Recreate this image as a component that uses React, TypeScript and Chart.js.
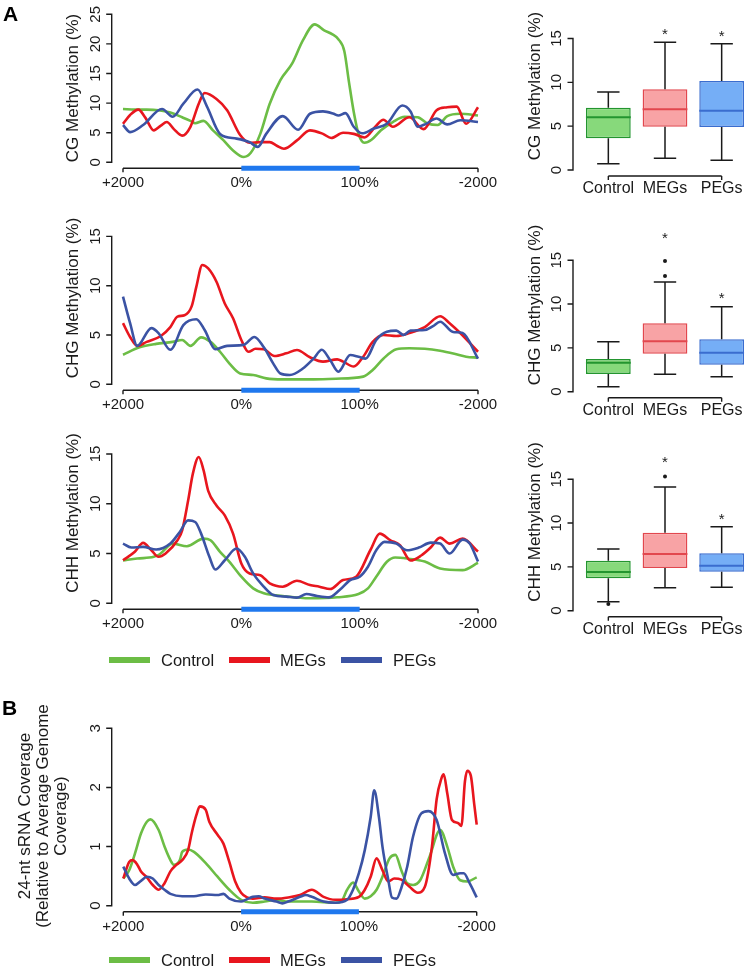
import React, { useEffect, useRef } from 'react';
import { Chart, registerables } from 'chart.js';
Chart.register(...registerables);

const FONT = '"Liberation Sans", Arial, Helvetica, sans-serif';
const INK = '#1a1a1a';
const W = 760;
const H = 967;

// ---------- categories / styles ----------
const groups = ['Control', 'MEGs', 'PEGs'];
const lineColors = ['#6cbd45', '#e8161e', '#3b53a4'];
const boxFill = ['#87d97b', '#f8a3a5', '#75aef6'];
const boxBorder = ['#23952f', '#e2474e', '#3a6dcf'];
const geneBarColor = '#1f78ee';

// ---------- axis ticks ----------
const xTickValues = [0, 100, 200, 300];
const xTickLabels = ['+2000', '0%', '100%', '-2000'];
const geneBody = [100, 200];
const cgLineTicks = [0, 5, 10, 15, 20, 25];
const chLineTicks = [0, 5, 10, 15];
const boxTicks = [0, 5, 10, 15];
const sRnaTicks = [0, 1, 2, 3];

// ---------- metaplot series: [position, value] ----------
const cgControl = [[0,9.0],[10,8.9],[20,8.9],[30,8.8],[40,8.4],[50,7.6],[57,7.0],[61,6.6],[68,7.0],[76,5.4],[85,3.7],[93,2.0],[102,0.9],[108,1.6],[116,4.8],[124,9.9],[133,13.9],[143,16.7],[152,20.6],[162,23.3],[170,22.3],[177,21.6],[182,20.8],[187,18.8],[191,13.5],[195,8.5],[199,4.8],[204,3.3],[210,3.8],[218,5.4],[228,6.8],[238,7.7],[249,7.6],[258,6.5],[266,6.3],[274,7.8],[285,8.2],[300,7.9]];
const cgMEGs = [[0,6.5],[6,8.0],[13,8.9],[19,7.5],[26,5.4],[32,6.2],[37,6.8],[43,5.6],[50,4.5],[57,6.0],[64,9.9],[69,11.7],[79,10.7],[88,8.8],[99,4.6],[107,3.3],[116,3.4],[124,3.4],[130,2.8],[136,2.3],[147,3.7],[158,5.4],[169,4.8],[176,4.1],[186,5.0],[195,4.8],[204,4.2],[214,6.2],[220,7.2],[228,6.0],[242,7.6],[254,5.6],[265,8.8],[274,9.3],[282,9.4],[290,6.5],[300,9.3]];
const cgPEGs = [[0,6.3],[6,5.1],[17,6.3],[33,9.0],[42,7.7],[51,9.9],[63,12.3],[71,9.4],[82,4.8],[96,4.0],[107,3.4],[114,2.6],[121,4.8],[135,7.8],[148,5.5],[158,8.2],[169,8.6],[178,8.2],[182,7.9],[188,8.3],[195,6.0],[202,4.9],[212,5.7],[223,6.5],[236,9.6],[243,8.6],[249,6.0],[256,6.5],[265,7.4],[274,6.4],[285,7.1],[300,6.8]];

const chgControl = [[0,3.0],[14,3.75],[28,4.1],[42,4.3],[50,4.5],[57,3.9],[66,4.76],[74,4.3],[82,3.3],[90,2.1],[99,1.1],[110,0.95],[121,0.6],[135,0.5],[158,0.5],[180,0.57],[203,0.78],[211,1.45],[220,2.6],[231,3.55],[242,3.65],[255,3.6],[268,3.4],[280,3.1],[290,2.8],[300,2.7]];
const chgMEGs = [[0,6.2],[6,4.8],[12,3.9],[20,4.3],[32,4.9],[40,5.8],[46,6.86],[52,7.0],[58,7.9],[62,9.9],[67,12.1],[72,11.75],[79,10.4],[86,8.2],[93,6.7],[100,4.5],[106,3.3],[112,3.6],[119,3.55],[128,2.87],[138,3.14],[147,3.48],[158,2.74],[169,2.3],[181,2.53],[186,2.3],[195,1.8],[203,2.8],[211,4.3],[220,5.0],[231,4.9],[242,5.2],[255,5.8],[268,6.9],[276,6.2],[285,5.2],[300,3.3]];
const chgPEGs = [[0,8.9],[6,6.2],[12,3.9],[24,5.7],[30,5.2],[40,3.5],[51,6.0],[62,6.6],[69,5.5],[78,3.55],[88,3.9],[102,4.0],[111,4.8],[119,3.75],[127,2.1],[133,1.1],[141,0.95],[152,1.6],[161,2.6],[168,3.5],[175,2.47],[182,1.28],[192,2.97],[199,2.8],[205,2.6],[214,4.5],[223,5.34],[231,5.44],[237,5.0],[243,5.44],[255,5.5],[262,5.9],[268,6.35],[279,5.3],[287,5.2],[300,2.6]];

const chhControl = [[0,4.3],[12,4.5],[26,4.67],[31,4.93],[42,6.0],[54,5.73],[68,6.5],[74,6.33],[82,5.17],[90,4.17],[100,2.67],[110,1.5],[119,1.0],[135,0.73],[158,0.5],[181,0.6],[199,0.93],[207,1.5],[214,2.67],[223,4.17],[230,4.6],[240,4.5],[255,4.2],[268,3.5],[287,3.33],[300,4.07]];
const chhMEGs = [[0,4.33],[10,5.17],[17,6.07],[24,5.33],[30,4.67],[36,5.0],[46,6.33],[50,7.33],[55,10.3],[59,13.0],[64,14.7],[68,13.4],[72,11.3],[79,9.83],[86,8.83],[93,7.0],[100,4.0],[107,3.0],[116,2.83],[124,2.0],[135,1.67],[147,2.27],[158,1.83],[166,1.67],[175,1.43],[186,2.33],[197,2.67],[209,5.33],[217,7.0],[226,6.33],[234,5.83],[243,4.3],[252,4.8],[260,5.6],[268,6.6],[276,6.0],[287,6.5],[300,5.2]];
const chhPEGs = [[0,6.0],[7,5.6],[17,5.67],[28,5.4],[40,6.0],[48,7.17],[55,8.33],[61,8.17],[66,7.0],[73,4.67],[78,3.4],[86,4.33],[96,5.5],[103,4.67],[110,3.0],[119,1.67],[127,0.83],[138,0.67],[147,0.57],[155,0.93],[164,0.73],[174,0.6],[183,1.33],[192,2.33],[200,2.67],[207,3.67],[214,5.33],[221,6.17],[231,6.0],[240,5.33],[250,5.6],[260,6.1],[268,6.0],[276,5.0],[287,6.4],[293,6.0],[300,4.2]];

const sRnaControl = [[0,0.46],[5,0.6],[10,0.89],[15,1.22],[20,1.42],[23,1.46],[30,1.28],[35,1.0],[40,0.77],[43,0.69],[48,0.77],[50,0.91],[55,0.95],[60,0.91],[70,0.72],[80,0.49],[90,0.27],[100,0.1],[110,0.05],[120,0.07],[130,0.1],[140,0.07],[160,0.07],[180,0.05],[185,0.07],[190,0.27],[195,0.39],[200,0.24],[205,0.12],[210,0.16],[215,0.27],[220,0.49],[226,0.8],[231,0.86],[236,0.6],[241,0.38],[246,0.35],[252,0.43],[260,0.83],[269,1.28],[275,1.0],[280,0.66],[286,0.43],[292,0.41],[300,0.48]];
const sRnaMEGs = [[0,0.46],[5,0.74],[8,0.77],[12,0.69],[15,0.58],[20,0.48],[25,0.35],[30,0.27],[35,0.38],[40,0.58],[45,0.69],[50,0.77],[55,0.94],[58,1.22],[62,1.53],[65,1.68],[70,1.62],[73,1.42],[80,1.2],[85,1.05],[90,0.74],[95,0.41],[100,0.22],[105,0.14],[110,0.12],[120,0.14],[130,0.12],[140,0.14],[150,0.18],[160,0.27],[170,0.15],[180,0.1],[190,0.11],[200,0.15],[205,0.27],[210,0.49],[215,0.8],[220,0.6],[225,0.41],[230,0.46],[236,0.44],[243,0.32],[250,0.22],[256,0.32],[262,1.0],[266,1.8],[270,2.15],[272,2.22],[275,1.9],[279,1.45],[284,1.4],[287,1.35],[290,2.1],[292,2.28],[295,2.2],[298,1.7],[300,1.37]];
const sRnaPEGs = [[0,0.66],[5,0.46],[10,0.35],[15,0.42],[20,0.49],[25,0.46],[30,0.35],[35,0.27],[40,0.2],[50,0.16],[60,0.16],[70,0.19],[80,0.18],[85,0.2],[90,0.12],[100,0.07],[105,0.11],[110,0.15],[115,0.16],[120,0.12],[130,0.07],[135,0.04],[140,0.07],[150,0.15],[155,0.18],[160,0.15],[170,0.07],[180,0.05],[190,0.1],[195,0.27],[200,0.55],[205,0.94],[210,1.5],[213,1.95],[217,1.5],[220,1.0],[225,0.43],[228,0.14],[232,0.12],[236,0.3],[241,0.66],[246,1.17],[253,1.56],[259,1.6],[266,1.45],[273,0.89],[280,0.52],[286,0.55],[289,0.55],[294,0.38],[300,0.14]];

// ---------- boxplots: [min, q1, median, q3, max] ----------
const cgBoxes = [[0.72,3.61,6.01,7.1,8.89],[1.33,4.94,6.92,9.2,14.56],[1.1,4.9,6.76,10.15,14.4]];
const chgBoxes = [[0.57,2.02,3.31,3.73,5.7],[1.98,4.33,5.75,7.8,12.5],[1.71,3.08,4.45,5.97,9.69]];
const chhBoxes = [[1.03,3.69,4.41,5.7,7.03],[2.62,4.87,6.47,8.89,14.1],[2.67,4.45,5.13,6.54,9.58]];
const cgOutliers: [string, number][] = [];
const chgOutliers: [string, number][] = [['MEGs',13.2],['MEGs',14.9],['MEGs',15.6],['MEGs',16.3]];
const chhOutliers: [string, number][] = [['Control',0.76],['MEGs',15.3],['MEGs',15.65],['MEGs',16.0]];
const cgStars = [null, 15.8, 15.6];
const chgStars = [null, 17.9, 11.0];
const chhStars = [null, 17.3, 10.8];

// ---------- R-style axes plugin ----------
function axesPlugin(o: any) {
  return {
    id: 'rAxes',
    afterDraw(chart: any) {
      const ctx = chart.ctx;
      const xs = chart.scales.x;
      const ys = chart.scales.y;
      ctx.save();
      ctx.strokeStyle = INK;
      ctx.fillStyle = INK;
      ctx.lineWidth = 1.4;
      const y0 = ys.getPixelForValue(o.yTicks[0]);
      const y1 = ys.getPixelForValue(o.yTicks[o.yTicks.length - 1]);
      const ax = o.yAxisX;
      ctx.beginPath();
      ctx.moveTo(ax, y0 + 0.7);
      ctx.lineTo(ax, y1 - 0.7);
      o.yTicks.forEach((t: number) => {
        const p = ys.getPixelForValue(t);
        ctx.moveTo(ax, p);
        ctx.lineTo(ax - 5.5, p);
      });
      ctx.stroke();
      ctx.textAlign = 'center';
      ctx.textBaseline = 'middle';
      ctx.font = `15px ${FONT}`;
      o.yTicks.forEach((t: number) => {
        const p = ys.getPixelForValue(t);
        ctx.save();
        ctx.translate(ax - 16, p);
        ctx.rotate(-Math.PI / 2);
        ctx.fillText(String(t), 0, 0);
        ctx.restore();
      });
      ctx.font = `17px ${FONT}`;
      const n = o.title.length;
      o.title.forEach((line: string, i: number) => {
        ctx.save();
        ctx.translate(ax - o.titleGap + (i - (n - 1) / 2) * 18.3, o.titleY);
        ctx.rotate(-Math.PI / 2);
        ctx.fillText(line, 0, 0);
        ctx.restore();
      });
      const xa = y0 + 6;
      const xL = xs.getPixelForValue(o.xTicks[0]);
      const xR = xs.getPixelForValue(o.xTicks[o.xTicks.length - 1]);
      ctx.beginPath();
      ctx.moveTo(xL, xa);
      ctx.lineTo(xR, xa);
      ctx.moveTo(xL, xa);
      ctx.lineTo(xL, xa + 4);
      ctx.moveTo(xR, xa);
      ctx.lineTo(xR, xa + 4);
      ctx.stroke();
      if (o.bar) {
        ctx.strokeStyle = geneBarColor;
        ctx.lineWidth = 5;
        ctx.beginPath();
        ctx.moveTo(xs.getPixelForValue(o.bar[0]), xa);
        ctx.lineTo(xs.getPixelForValue(o.bar[1]), xa);
        ctx.stroke();
      }
      ctx.fillStyle = INK;
      ctx.font = `${o.xLabelSize}px ${FONT}`;
      o.xTicks.forEach((t: number, i: number) => {
        ctx.fillText(o.xLabels[i], xs.getPixelForValue(t), y0 + o.xLabelGap);
      });
      ctx.restore();
    },
  };
}

function boxPlugin(boxes: number[][], stars: (number | null)[]) {
  return {
    id: 'boxExtras',
    afterDatasetsDraw(chart: any) {
      const ctx = chart.ctx;
      const xs = chart.scales.x;
      const ys = chart.scales.y;
      const meta = chart.getDatasetMeta(0);
      ctx.save();
      boxes.forEach((b, i) => {
        const cx = xs.getPixelForValue(i);
        const w = meta.data[i].width;
        const [mn, q1, md, q3, mx] = b;
        ctx.strokeStyle = INK;
        ctx.lineWidth = 1.5;
        ctx.beginPath();
        ctx.moveTo(cx, ys.getPixelForValue(q3));
        ctx.lineTo(cx, ys.getPixelForValue(mx));
        ctx.moveTo(cx, ys.getPixelForValue(q1));
        ctx.lineTo(cx, ys.getPixelForValue(mn));
        ctx.moveTo(cx - w / 4, ys.getPixelForValue(mx));
        ctx.lineTo(cx + w / 4, ys.getPixelForValue(mx));
        ctx.moveTo(cx - w / 4, ys.getPixelForValue(mn));
        ctx.lineTo(cx + w / 4, ys.getPixelForValue(mn));
        ctx.stroke();
        ctx.strokeStyle = boxBorder[i];
        ctx.lineWidth = 2;
        ctx.beginPath();
        ctx.moveTo(cx - w / 2, ys.getPixelForValue(md));
        ctx.lineTo(cx + w / 2, ys.getPixelForValue(md));
        ctx.stroke();
        const s = stars[i];
        if (s != null) {
          ctx.fillStyle = INK;
          ctx.font = `15px ${FONT}`;
          ctx.textAlign = 'center';
          ctx.textBaseline = 'alphabetic';
          ctx.fillText('*', cx, ys.getPixelForValue(s) + 8);
        }
      });
      ctx.restore();
    },
  };
}

function padding(area: number[]) {
  return { left: area[0], right: W - area[1], top: area[2], bottom: H - area[3] };
}

function lineConfig(series: number[][][], area: number[], yMax: number, yTicks: number[], title: string[], titleY: number, titleGap: number) {
  return {
    type: 'line',
    data: {
      datasets: series.map((s, i) => ({
        label: groups[i],
        data: s.map(([x, y]) => ({ x, y })),
        borderColor: lineColors[i],
        borderWidth: 2.6,
        pointRadius: 0,
        cubicInterpolationMode: 'monotone',
        fill: false,
        clip: false,
        order: 3 - i,
      })),
    },
    options: {
      responsive: false,
      animation: false,
      events: [],
      layout: { padding: padding(area) },
      scales: {
        x: { type: 'linear', min: 0, max: 300, display: false },
        y: { type: 'linear', min: 0, max: yMax, display: false },
      },
      plugins: { legend: { display: false }, tooltip: { enabled: false } },
    },
    plugins: [
      axesPlugin({
        yTicks, yAxisX: 111.7, title, titleY, titleGap,
        xTicks: xTickValues, xLabels: xTickLabels, xLabelSize: 15, xLabelGap: 21, bar: geneBody,
      }),
    ],
  };
}

function boxConfig(boxes: number[][], outliers: [string, number][], stars: (number | null)[], area: number[], title: string, titleY: number) {
  return {
    type: 'bar',
    data: {
      labels: groups,
      datasets: [
        {
          type: 'bar',
          data: boxes.map((b) => [b[1], b[3]]),
          backgroundColor: boxFill,
          borderColor: boxBorder,
          borderWidth: 1.5,
          borderSkipped: false,
          barPercentage: 0.79,
          categoryPercentage: 1,
          clip: false,
          order: 2,
        },
        {
          type: 'scatter',
          data: outliers.map(([g, v]) => ({ x: g, y: v })),
          pointRadius: 2,
          backgroundColor: INK,
          borderWidth: 0,
          clip: false,
          order: 1,
        },
      ],
    },
    options: {
      responsive: false,
      animation: false,
      events: [],
      layout: { padding: padding(area) },
      scales: {
        x: { type: 'category', offset: true, display: false },
        y: { type: 'linear', min: 0, max: 15, display: false },
      },
      plugins: { legend: { display: false }, tooltip: { enabled: false } },
    },
    plugins: [
      boxPlugin(boxes, stars),
      axesPlugin({
        yTicks: boxTicks, yAxisX: 573, title: [title], titleY, titleGap: 38,
        xTicks: [0, 1, 2], xLabels: groups, xLabelSize: 16, xLabelGap: 19, bar: null,
      }),
    ],
  };
}

function ChartLayer({ make }: { make: () => any }) {
  const ref = useRef<HTMLCanvasElement | null>(null);
  useEffect(() => {
    if (!ref.current) return;
    const chart = new Chart(ref.current, make());
    return () => chart.destroy();
  }, []);
  return (
    <canvas
      ref={ref}
      width={W}
      height={H}
      style={{ position: 'absolute', left: 0, top: 0, width: W, height: H }}
    />
  );
}

function Legend({ center }: { center: number }) {
  const swatchX = [109, 229, 341];
  const textX = [161, 280, 393];
  return (
    <>
      {groups.map((g, i) => (
        <React.Fragment key={g}>
          <div style={{ position: 'absolute', left: swatchX[i], top: center - 3, width: 41, height: 6, background: lineColors[i] }} />
          <div style={{ position: 'absolute', left: textX[i], top: center - 10, height: 20, lineHeight: '20px', fontSize: 16.5, fontFamily: FONT, color: INK, whiteSpace: 'nowrap' }}>{g}</div>
        </React.Fragment>
      ))}
    </>
  );
}

function PanelLetter({ text, left, center }: { text: string; left: number; center: number }) {
  return (
    <div style={{ position: 'absolute', left, top: center - 12, height: 24, lineHeight: '24px', fontSize: 21, fontWeight: 'bold', fontFamily: FONT, color: '#000' }}>{text}</div>
  );
}

export default function App() {
  return (
    <div style={{ position: 'fixed', left: 0, top: 0, width: 747, height: 967, overflow: 'hidden', background: '#fff' }}>
      <ChartLayer make={() => lineConfig([cgControl, cgMEGs, cgPEGs], [123, 478, 14.3, 162.3], 25, cgLineTicks, ['CG Methylation (%)'], 88, 38)} />
      <ChartLayer make={() => lineConfig([chgControl, chgMEGs, chgPEGs], [123, 478, 236.4, 384.3], 15, chLineTicks, ['CHG Methylation (%)'], 298, 38)} />
      <ChartLayer make={() => lineConfig([chhControl, chhMEGs, chhPEGs], [123, 478, 454, 603.3], 15, chLineTicks, ['CHH Methylation (%)'], 513, 38)} />
      <ChartLayer make={() => boxConfig(cgBoxes, cgOutliers, cgStars, [580, 750, 38.5, 170], 'CG Methylation (%)', 86)} />
      <ChartLayer make={() => boxConfig(chgBoxes, chgOutliers, chgStars, [580, 750, 260.2, 391.7], 'CHG Methylation (%)', 305)} />
      <ChartLayer make={() => boxConfig(chhBoxes, chhOutliers, chhStars, [580, 750, 479.2, 610.7], 'CHH Methylation (%)', 522)} />
      <ChartLayer make={() => lineConfig([sRnaControl, sRnaMEGs, sRnaPEGs], [123.3, 476.7, 728.3, 905.7], 3, sRnaTicks, ['24-nt sRNA Coverage', '(Relative to Average Genome', 'Coverage)'], 816, 68.4)} />
      <PanelLetter text="A" left={3} center={14} />
      <PanelLetter text="B" left={2} center={708} />
      <Legend center={660} />
      <Legend center={960} />
    </div>
  );
}
